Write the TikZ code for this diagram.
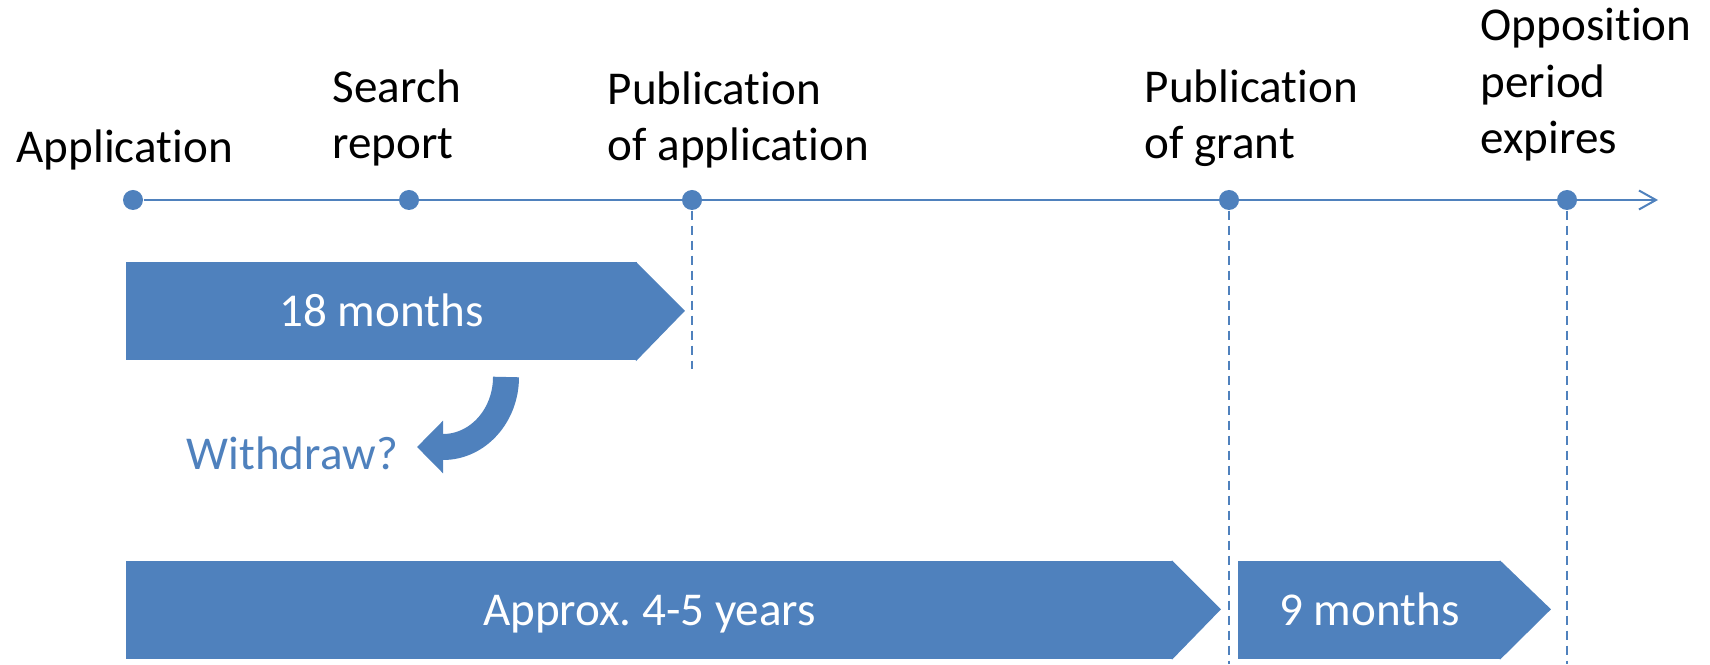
\documentclass[tikz,border=0pt]{standalone}
\usepackage{fontspec}
\setmainfont{Carlito}[Ligatures=NoCommon]
\usetikzlibrary{arrows.meta}
\definecolor{tlblue}{HTML}{4F81BD}
\tikzset{
  event/.style={circle,fill=tlblue,inner sep=0pt,minimum size=0.2cm},
  evtext/.style={anchor=base west,inner sep=0pt,align=left,font=\fontsize{13.4}{16.2}\selectfont},
  durbox/.style={fill=tlblue,text=white,inner sep=0pt,minimum height=0.98cm,text height=0.3cm,text depth=0cm,font=\fontsize{13.4}{16.2}\selectfont},
  guide/.style={tlblue,line width=0.43pt,dash pattern=on 0.09cm off 0.06cm},
}
\begin{document}
\frenchspacing
\begin{tikzpicture}
    \useasboundingbox (0,0) rectangle (17.10,6.64);
    % events on the time line
    \node[event] (app) at (1.33,4.64) {};
    \node[event] (search) at (4.09,4.64) {};
    \node[event] (pubapp) at (6.92,4.64) {};
    \node[event] (pubgrant) at (12.29,4.64) {};
    \node[event] (oppo) at (15.67,4.64) {};
    \coordinate (tlend) at (16.58,4.64);
    \draw[tlblue,line width=0.57pt,-{Straight Barb[length=0.17cm,width=0.19cm]}] (app) -- (tlend);
    \node[evtext] (applbl) at (0.16,5.01) {Application};
    \node[evtext] (searchlbl) at (3.32,5.05) {Search\\report};
    \node[evtext] (pubapplbl) at (6.07,5.03) {Publication\\of application};
    \node[evtext] (pubgrantlbl) at (11.44,5.05) {Publication\\of grant};
    \node[evtext] (oppolbl) at (14.80,5.10) {Opposition\\period\\expires};
    % dashed guides
    \coordinate (pubappend) at (6.92,2.95);
    \coordinate (pubgrantend) at (12.29,0);
    \coordinate (oppoend) at (15.67,0);
    \draw[guide] (pubapp) -- (pubappend);
    \draw[guide] (pubgrant) -- (pubgrantend);
    \draw[guide] (oppo) -- (oppoend);
    % durations
    \node[durbox,minimum width=5.11cm] (m18) at (3.815,3.525) {18 months};
    \fill[tlblue] ([xshift=-0.5pt]m18.north east) -- ++(0.49,-0.49) -- ([xshift=-0.5pt]m18.south east) -- cycle;
    \node[durbox,minimum width=10.47cm] (yrs) at (6.495,0.54) {Approx. 4-5 years};
    \fill[tlblue] ([xshift=-0.5pt]yrs.north east) -- ++(0.49,-0.49) -- ([xshift=-0.5pt]yrs.south east) -- cycle;
    \node[durbox,minimum width=2.63cm] (m9) at (13.695,0.54) {9 months};
    \fill[tlblue] ([xshift=-0.5pt]m9.north east) -- ++(0.51,-0.49) -- ([xshift=-0.5pt]m9.south east) -- cycle;
    % withdrawal
    \node[evtext,text=tlblue] (withdraw) at (1.86,1.94) {Withdraw?};
    \draw[tlblue,line width=0.26cm,-{Triangle[length=0.26cm,width=0.51cm]}] (5.06,2.87) arc[start angle=0,end angle=-90,x radius=0.63,y radius=0.70] -- ++(-0.26,0);
\end{tikzpicture}
\end{document}
